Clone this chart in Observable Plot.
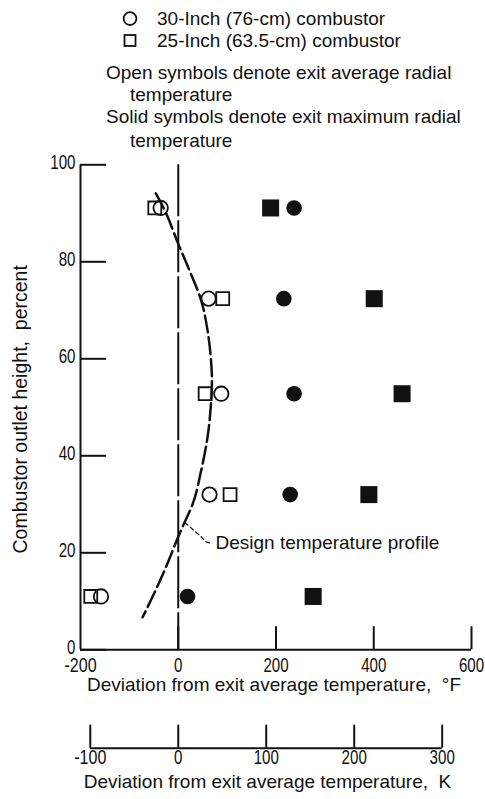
<!DOCTYPE html>
<html><head><meta charset="utf-8">
<script src="https://cdn.jsdelivr.net/npm/d3@7"></script>
<script src="https://cdn.jsdelivr.net/npm/@observablehq/plot@0.6"></script>
<style>
body{margin:0;background:#fff;}
svg{display:block}
</style></head><body>
<div id="chart"></div>
<script>
// ---- data ----
const heights = [91.1, 72.4, 52.8, 32.0, 11.0];          // combustor outlet height, percent
const avg30 = [-36, 62, 88, 64, -158];                    // open circles, °F
const avg25 = [-48, 91, 55, 106, -179];                   // open squares, °F
const max30 = [237, 216, 237, 229, 19];                   // solid circles, °F
const max25 = [189, 401, 458, 390, 276];                  // solid squares, °F
const profileHeight = [94.1, 90.9, 83.7, 78.2, 72.0, 65.8, 59.7, 55.6, 50.8, 43.9, 37.0, 30.2, 25.4, 23.3, 17.1, 11.7, 6.7];
const profileDev    = [-46, -29, 0, 23, 47, 60, 67, 69, 67, 60, 47, 30, 9, 0, -25, -49, -73];
const leaderDev = [14, 48, 57, 67];
const leaderHeight = [26.2, 23.2, 22.3, 22.0];
const xTicksF = [-200, 0, 200, 400, 600];
const yTicks = [0, 20, 40, 60, 80, 100];
const xTicksK = [-100, 0, 100, 200, 300];
const legendLabels = ["30-Inch (76-cm) combustor", "25-Inch (63.5-cm) combustor"];
const noteLines = ["Open symbols denote exit average radial", "temperature", "Solid symbols denote exit maximum radial", "temperature"];
const xTitleF = "Deviation from exit average temperature,\u00a0 °F";
const xTitleK = "Deviation from exit average temperature,\u00a0 K";
const yTitle = "Combustor outlet height,\u00a0 percent";
const profileLabel = "Design temperature profile";
const F_PER_K = 1.8;

const FONT = '"Liberation Sans", Arial, sans-serif';
const INK = "#111";
const TICK_FS = 21;

// ---- legend (above the chart) ----
const leg = d3.create("svg").attr("width", 485).attr("height", 150)
  .style("font-family", FONT).style("font-size", "19px").attr("fill", INK);
leg.append("circle").attr("cx", 130).attr("cy", 18.6).attr("r", 6.4)
  .attr("fill", "none").attr("stroke", INK).attr("stroke-width", 1.8);
leg.append("rect").attr("x", 124.5).attr("y", 35).attr("width", 11).attr("height", 11)
  .attr("fill", "none").attr("stroke", INK).attr("stroke-width", 1.8);
const legBase = [25, 46.7];
legendLabels.forEach((t, i) => leg.append("text").attr("x", 157).attr("y", legBase[i]).text(t));
const noteX = [106, 130, 106, 130], noteBase = [79, 100.5, 123, 146.5];
noteLines.forEach((t, i) => leg.append("text").attr("x", noteX[i]).attr("y", noteBase[i]).text(t));
document.getElementById("chart").append(leg.node());

// ---- chart ----
const H = 649, frameH = 485;
const plot = Plot.plot({
  width: 485, height: H,
  marginLeft: 80, marginRight: 14, marginTop: 14.3, marginBottom: H - 499.3,
  x: {domain: [-200, 600], axis: null},
  y: {domain: [0, 100], axis: null},
  style: {fontFamily: FONT, fontSize: "19px", color: INK, background: "white", overflow: "visible"},
  marks: [
    // axes lines
    Plot.ruleX([xTicksF[0]], {stroke: INK, strokeWidth: 2}),
    Plot.ruleY([yTicks[0]], {stroke: INK, strokeWidth: 2}),
    // inward ticks
    Plot.tickY(yTicks, {y: d => d, stroke: INK, strokeWidth: 2, insetRight: 391 - 26}),
    Plot.tickX(xTicksF.slice(1), {x: d => d, stroke: INK, strokeWidth: 2, insetTop: frameH - 23}),
    // zero reference line
    Plot.ruleX([0], {stroke: INK, strokeWidth: 2, strokeDasharray: "52,4"}),
    // tick labels
    Plot.text(yTicks, {y: d => d, text: d => String(d), frameAnchor: "left", textAnchor: "end", dx: -5, dy: -2.5, fill: INK, fontSize: TICK_FS}),
    Plot.text(xTicksF, {x: d => d, text: d => String(d), frameAnchor: "bottom", lineAnchor: "top", dy: 7, fill: INK, fontSize: TICK_FS}),
    // axis titles
    Plot.text([xTitleF], {frameAnchor: "bottom", dy: 41.4, dx: -2, fill: INK}),
    Plot.text([yTitle], {frameAnchor: "left", textAnchor: "middle", rotate: -90, dx: -59.3, dy: 2, fill: INK, fontSize: 19.5}),
    // secondary K axis
    Plot.ruleY([xTicksK], {x1: d => d[0] * F_PER_K, x2: d => d[d.length - 1] * F_PER_K, y: () => 0, dy: 98.4, stroke: INK, strokeWidth: 2}),
    Plot.tickX(xTicksK, {x: d => d * F_PER_K, dy: 98.4, insetTop: frameH - 23, stroke: INK, strokeWidth: 2}),
    Plot.text(xTicksK, {x: d => d * F_PER_K, text: d => String(d), frameAnchor: "bottom", dy: 114.4, fill: INK, fontSize: TICK_FS}),
    Plot.text([xTitleK], {frameAnchor: "bottom", dy: 138.4, dx: -8.5, fill: INK}),
    // design profile
    Plot.line(profileDev, {x: d => d, y: (d, i) => profileHeight[i], curve: "monotone-y", stroke: INK, strokeWidth: 2.5, strokeDasharray: "17,5"}),
    Plot.line(leaderDev, {x: d => d, y: (d, i) => leaderHeight[i], curve: "catmull-rom", stroke: INK, strokeWidth: 1.2, strokeDasharray: "4,3"}),
    Plot.text([profileLabel], {x: () => leaderDev[leaderDev.length - 1], y: () => leaderHeight[leaderHeight.length - 1], textAnchor: "start", dx: 4.5, fill: INK}),
    // data symbols
    Plot.dot(avg25, {x: d => d, y: (d, i) => heights[i], symbol: "square", r: 7.3, stroke: INK, strokeWidth: 1.8, fill: "none"}),
    Plot.dot(max25, {x: d => d, y: (d, i) => heights[i], symbol: "square", r: 9.6, fill: INK, stroke: "none"}),
    Plot.dot(avg30, {x: d => d, y: (d, i) => heights[i], symbol: "circle", r: 7.2, stroke: INK, strokeWidth: 1.8, fill: "none"}),
    Plot.dot(max30, {x: d => d, y: (d, i) => heights[i], symbol: "circle", r: 7.8, fill: INK, stroke: "none"})
  ]
});
// condensed look for numeric tick labels (as in the reference typeface)
d3.select(plot).selectAll("text").each(function () {
  const t = this.textContent;
  if (/^-?\d+$/.test(t)) {
    const w = t.replace("-", "").length * 8.4 + (t.startsWith("-") ? 7 : 0);
    this.setAttribute("textLength", w);
    this.setAttribute("lengthAdjust", "spacingAndGlyphs");
  }
});
document.getElementById("chart").append(plot);
</script>
</body></html>
